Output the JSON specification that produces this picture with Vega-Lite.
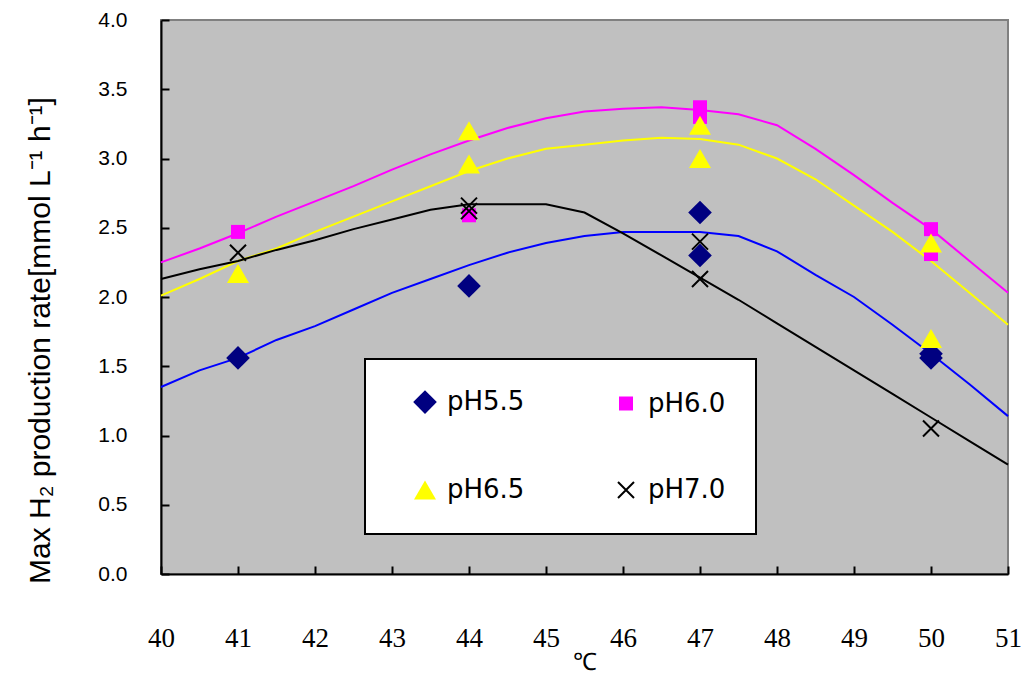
{
  "$schema": "https://vega.github.io/schema/vega-lite/v6.json",
  "autosize": "none",
  "width": 847,
  "height": 554,
  "padding": {"left": 161, "top": 20, "right": 18, "bottom": 103},
  "background": "white",
  "datasets": {
    "fit": [
      {"T": 40, "v": 1.35, "pH": "pH5.5"}, {"T": 40.5, "v": 1.47, "pH": "pH5.5"}, {"T": 41, "v": 1.56, "pH": "pH5.5"}, {"T": 41.5, "v": 1.69, "pH": "pH5.5"}, {"T": 42, "v": 1.79, "pH": "pH5.5"}, {"T": 42.5, "v": 1.91, "pH": "pH5.5"}, {"T": 43, "v": 2.03, "pH": "pH5.5"}, {"T": 43.5, "v": 2.13, "pH": "pH5.5"}, {"T": 44, "v": 2.23, "pH": "pH5.5"}, {"T": 44.5, "v": 2.32, "pH": "pH5.5"}, {"T": 45, "v": 2.39, "pH": "pH5.5"}, {"T": 45.5, "v": 2.44, "pH": "pH5.5"}, {"T": 46, "v": 2.47, "pH": "pH5.5"}, {"T": 46.5, "v": 2.47, "pH": "pH5.5"}, {"T": 47, "v": 2.47, "pH": "pH5.5"}, {"T": 47.5, "v": 2.44, "pH": "pH5.5"}, {"T": 48, "v": 2.33, "pH": "pH5.5"}, {"T": 48.5, "v": 2.16, "pH": "pH5.5"}, {"T": 49, "v": 2.0, "pH": "pH5.5"}, {"T": 49.5, "v": 1.8, "pH": "pH5.5"}, {"T": 50, "v": 1.59, "pH": "pH5.5"}, {"T": 50.5, "v": 1.37, "pH": "pH5.5"}, {"T": 51, "v": 1.14, "pH": "pH5.5"},
      {"T": 40, "v": 2.25, "pH": "pH6.0"}, {"T": 40.5, "v": 2.35, "pH": "pH6.0"}, {"T": 41, "v": 2.46, "pH": "pH6.0"}, {"T": 41.5, "v": 2.58, "pH": "pH6.0"}, {"T": 42, "v": 2.69, "pH": "pH6.0"}, {"T": 42.5, "v": 2.8, "pH": "pH6.0"}, {"T": 43, "v": 2.92, "pH": "pH6.0"}, {"T": 43.5, "v": 3.03, "pH": "pH6.0"}, {"T": 44, "v": 3.13, "pH": "pH6.0"}, {"T": 44.5, "v": 3.22, "pH": "pH6.0"}, {"T": 45, "v": 3.29, "pH": "pH6.0"}, {"T": 45.5, "v": 3.34, "pH": "pH6.0"}, {"T": 46, "v": 3.36, "pH": "pH6.0"}, {"T": 46.5, "v": 3.37, "pH": "pH6.0"}, {"T": 47, "v": 3.35, "pH": "pH6.0"}, {"T": 47.5, "v": 3.32, "pH": "pH6.0"}, {"T": 48, "v": 3.24, "pH": "pH6.0"}, {"T": 48.5, "v": 3.07, "pH": "pH6.0"}, {"T": 49, "v": 2.88, "pH": "pH6.0"}, {"T": 49.5, "v": 2.68, "pH": "pH6.0"}, {"T": 50, "v": 2.49, "pH": "pH6.0"}, {"T": 50.5, "v": 2.26, "pH": "pH6.0"}, {"T": 51, "v": 2.03, "pH": "pH6.0"},
      {"T": 40, "v": 2.01, "pH": "pH6.5"}, {"T": 40.5, "v": 2.13, "pH": "pH6.5"}, {"T": 41, "v": 2.26, "pH": "pH6.5"}, {"T": 41.5, "v": 2.35, "pH": "pH6.5"}, {"T": 42, "v": 2.47, "pH": "pH6.5"}, {"T": 42.5, "v": 2.58, "pH": "pH6.5"}, {"T": 43, "v": 2.69, "pH": "pH6.5"}, {"T": 43.5, "v": 2.8, "pH": "pH6.5"}, {"T": 44, "v": 2.91, "pH": "pH6.5"}, {"T": 44.5, "v": 3.0, "pH": "pH6.5"}, {"T": 45, "v": 3.07, "pH": "pH6.5"}, {"T": 45.5, "v": 3.1, "pH": "pH6.5"}, {"T": 46, "v": 3.13, "pH": "pH6.5"}, {"T": 46.5, "v": 3.15, "pH": "pH6.5"}, {"T": 47, "v": 3.14, "pH": "pH6.5"}, {"T": 47.5, "v": 3.1, "pH": "pH6.5"}, {"T": 48, "v": 3.0, "pH": "pH6.5"}, {"T": 48.5, "v": 2.85, "pH": "pH6.5"}, {"T": 49, "v": 2.66, "pH": "pH6.5"}, {"T": 49.5, "v": 2.47, "pH": "pH6.5"}, {"T": 50, "v": 2.26, "pH": "pH6.5"}, {"T": 50.5, "v": 2.03, "pH": "pH6.5"}, {"T": 51, "v": 1.8, "pH": "pH6.5"},
      {"T": 40, "v": 2.13, "pH": "pH7.0"}, {"T": 40.5, "v": 2.2, "pH": "pH7.0"}, {"T": 41, "v": 2.26, "pH": "pH7.0"}, {"T": 41.5, "v": 2.34, "pH": "pH7.0"}, {"T": 42, "v": 2.41, "pH": "pH7.0"}, {"T": 42.5, "v": 2.49, "pH": "pH7.0"}, {"T": 43, "v": 2.56, "pH": "pH7.0"}, {"T": 43.5, "v": 2.63, "pH": "pH7.0"}, {"T": 44, "v": 2.67, "pH": "pH7.0"}, {"T": 44.5, "v": 2.67, "pH": "pH7.0"}, {"T": 45, "v": 2.67, "pH": "pH7.0"}, {"T": 45.5, "v": 2.61, "pH": "pH7.0"}, {"T": 46, "v": 2.46, "pH": "pH7.0"}, {"T": 46.5, "v": 2.3, "pH": "pH7.0"}, {"T": 47, "v": 2.14, "pH": "pH7.0"}, {"T": 47.5, "v": 1.98, "pH": "pH7.0"}, {"T": 48, "v": 1.81, "pH": "pH7.0"}, {"T": 48.5, "v": 1.64, "pH": "pH7.0"}, {"T": 49, "v": 1.47, "pH": "pH7.0"}, {"T": 49.5, "v": 1.3, "pH": "pH7.0"}, {"T": 50, "v": 1.13, "pH": "pH7.0"}, {"T": 50.5, "v": 0.96, "pH": "pH7.0"}, {"T": 51, "v": 0.79, "pH": "pH7.0"}
    ],
    "obs": [
      {"T": 41, "v": 1.56, "pH": "pH5.5"}, {"T": 44, "v": 2.08, "pH": "pH5.5"}, {"T": 47, "v": 2.61, "pH": "pH5.5"}, {"T": 47, "v": 2.3, "pH": "pH5.5"}, {"T": 50, "v": 1.59, "pH": "pH5.5"}, {"T": 50, "v": 1.56, "pH": "pH5.5"},
      {"T": 41, "v": 2.47, "pH": "pH6.0"}, {"T": 44, "v": 2.59, "pH": "pH6.0"}, {"T": 47, "v": 3.37, "pH": "pH6.0"}, {"T": 47, "v": 3.3, "pH": "pH6.0"}, {"T": 50, "v": 2.49, "pH": "pH6.0"}, {"T": 50, "v": 2.31, "pH": "pH6.0"},
      {"T": 41, "v": 2.17, "pH": "pH6.5"}, {"T": 44, "v": 3.2, "pH": "pH6.5"}, {"T": 44, "v": 2.96, "pH": "pH6.5"}, {"T": 47, "v": 3.24, "pH": "pH6.5"}, {"T": 47, "v": 3.0, "pH": "pH6.5"}, {"T": 50, "v": 2.39, "pH": "pH6.5"}, {"T": 50, "v": 1.7, "pH": "pH6.5"},
      {"T": 41, "v": 2.32, "pH": "pH7.0"}, {"T": 44, "v": 2.66, "pH": "pH7.0"}, {"T": 44, "v": 2.62, "pH": "pH7.0"}, {"T": 47, "v": 2.4, "pH": "pH7.0"}, {"T": 47, "v": 2.13, "pH": "pH7.0"}, {"T": 50, "v": 1.05, "pH": "pH7.0"}
    ]
  },
  "config": {
    "view": {"fill": "#C0C0C0", "stroke": "#808080", "strokeWidth": 2},
    "font": "Liberation Sans",
    "axis": {"grid": false, "domainColor": "#000000", "domainWidth": 2, "tickColor": "#000000", "tickWidth": 2, "labelColor": "#000000", "titleColor": "#000000", "titleFontWeight": "normal"},
    "legend": {"strokeWidth": 2}
  },
  "encoding": {
    "x": {"field": "T", "type": "quantitative",
      "scale": {"domain": [40, 51], "nice": false, "zero": false},
      "axis": {"title": "℃", "values": [40, 41, 42, 43, 44, 45, 46, 47, 48, 49, 50, 51], "format": "d", "tickSize": -8, "labelPadding": 72, "labelFont": "Liberation Sans Narrow", "labelFontSize": 27, "labelBaseline": "middle", "labelFlush": false, "labelOverlap": false, "titleFontSize": 24, "titleFont": "Liberation Sans", "titleY": 88, "titleBaseline": "middle"}},
    "y": {"field": "v", "type": "quantitative",
      "scale": {"domain": [0, 4], "nice": false},
      "axis": {"title": "Max H₂ production rate[mmol L⁻¹ h⁻¹]", "values": [0, 0.5, 1, 1.5, 2, 2.5, 3, 3.5, 4], "format": ".1f", "tickSize": -8, "labelPadding": 42, "labelFontSize": 21, "labelFlush": false, "titleFontSize": 30, "titleX": -121, "titleY": 320, "titleBaseline": "middle", "titleAnchor": "middle"}}
  },
  "layer": [
    {
      "data": {"name": "fit"},
      "mark": {"type": "line", "strokeWidth": 2},
      "encoding": {
        "color": {"field": "pH", "type": "nominal",
          "scale": {"domain": ["pH5.5", "pH6.0", "pH6.5", "pH7.0"], "range": ["#0000FF", "#FF00FF", "#FFFF00", "#000000"]},
          "legend": null}
      }
    },
    {
      "data": {"name": "obs"},
      "mark": {"type": "point", "filled": true, "opacity": 1, "strokeWidth": 2},
      "encoding": {
        "shape": {"field": "pH", "type": "nominal",
          "scale": {"domain": ["pH5.5", "pH6.5", "pH6.0", "pH7.0"], "range": ["diamond", "triangle-up", "square", "M-1,-1L1,1M-1,1L1,-1"]},
          "legend": {"title": null, "orient": "none", "legendX": 204, "legendY": 339, "columns": 2, "columnPadding": 71, "rowPadding": 58, "padding": 30, "symbolOffset": 17, "fillColor": "#FFFFFF", "strokeColor": "#000000", "labelFontSize": 26, "labelFont": "DejaVu Sans", "labelColor": "#000000", "labelOffset": 9, "symbolStrokeWidth": 2, "symbolOpacity": 1}},
        "fill": {"field": "pH", "type": "nominal",
          "scale": {"domain": ["pH5.5", "pH6.5", "pH6.0", "pH7.0"], "range": ["#000080", "#FFFF00", "#FF00FF", "transparent"]}},
        "stroke": {"field": "pH", "type": "nominal",
          "scale": {"domain": ["pH5.5", "pH6.5", "pH6.0", "pH7.0"], "range": ["transparent", "transparent", "transparent", "#000000"]}},
        "size": {"field": "pH", "type": "nominal",
          "scale": {"type": "ordinal", "domain": ["pH5.5", "pH6.5", "pH6.0", "pH7.0"], "range": [560, 484, 196, 256]}}
      }
    }
  ]
}
